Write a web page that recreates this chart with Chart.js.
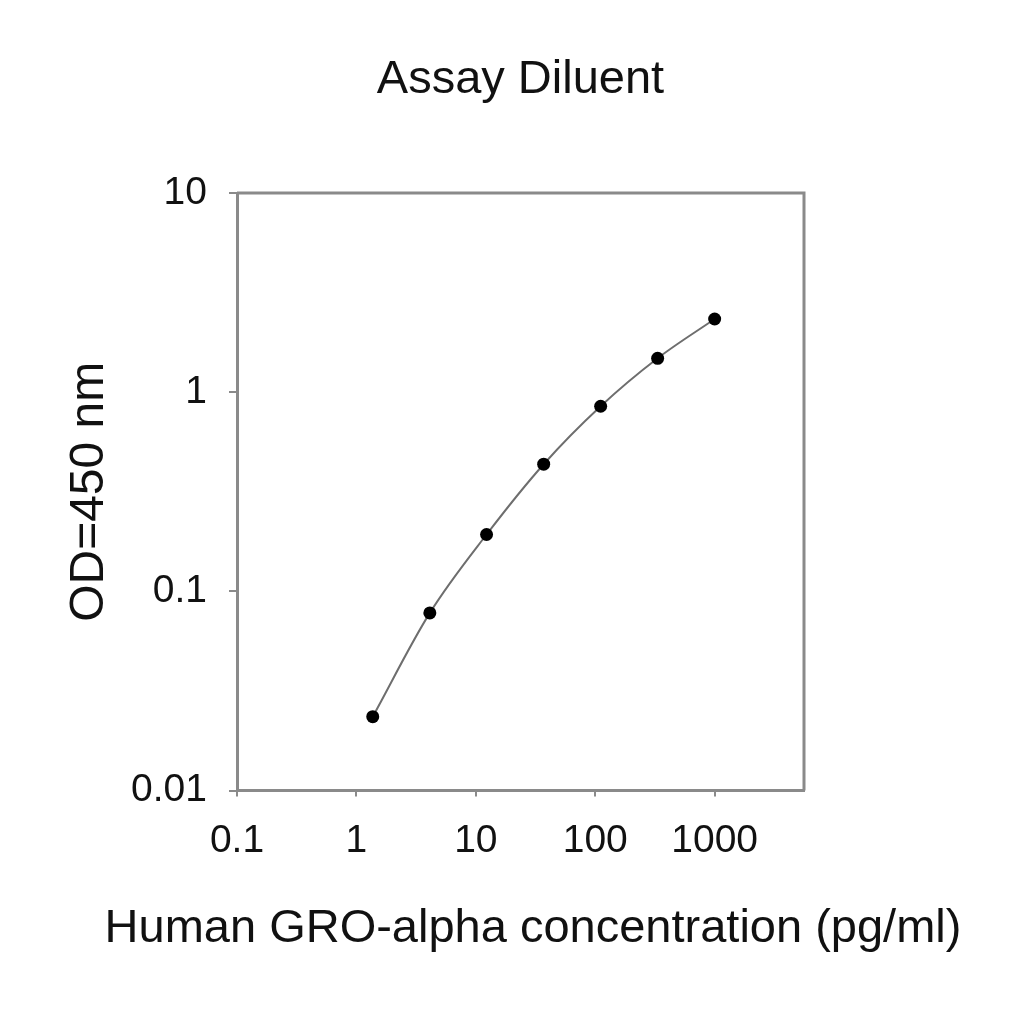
<!DOCTYPE html>
<html>
<head>
<meta charset="utf-8">
<script src="https://cdn.jsdelivr.net/npm/chart.js@4"></script>
<style>
  html, body { margin: 0; padding: 0; background: #fff; }
  #wrap { width: 1024px; height: 1024px; }
</style>
</head>
<body>
<div id="wrap"><canvas id="chart"></canvas></div>
<script>
// GRO-alpha standard curve (pg/ml vs OD 450 nm)
const concentrations = [1.37, 4.12, 12.3, 37, 111, 333, 1000];
const odValues = [0.0235, 0.078, 0.193, 0.435, 0.85, 1.48, 2.33];
const xTicks = [0.1, 1, 10, 100, 1000];
const yTicks = [0.01, 0.1, 1, 10];

const axisGray = '#8a8a8a';
const fontFamily = '"Liberation Sans", Arial, sans-serif';

// top and right edge of the plot box
const frame = {
    id: 'frame',
    afterDraw(chart) {
        const a = chart.chartArea;
        const ctx = chart.ctx;
        ctx.save();
        ctx.strokeStyle = axisGray;
        ctx.lineWidth = 3;
        ctx.beginPath();
        ctx.moveTo(a.left, a.top);
        ctx.lineTo(a.right, a.top);
        ctx.lineTo(a.right, a.bottom);
        ctx.stroke();
        ctx.restore();
    }
};

new Chart(document.getElementById('chart'), {
    type: 'line',
    data: {
        datasets: [{
            data: concentrations.map((c, i) => ({ x: c, y: odValues[i] })),
            borderColor: '#6e6e6e',
            borderWidth: 2,
            cubicInterpolationMode: 'monotone',
            pointRadius: 6.5,
            pointBackgroundColor: '#000',
            pointBorderColor: '#000',
            pointBorderWidth: 0
        }]
    },
    options: {
        responsive: true,
        maintainAspectRatio: false,
        animation: false,
        layout: { padding: { left: 42, right: 0, top: 0, bottom: 0 } },
        plugins: {
            legend: { display: false },
            tooltip: { enabled: false },
            // x axis title, as a bottom subtitle so it can be wider than the plot
            subtitle: {
                display: true,
                position: 'bottom',
                text: 'Human GRO-alpha concentration (pg/ml)',
                color: '#111',
                font: { family: fontFamily, size: 47, weight: 'normal' },
                padding: { top: 0, bottom: 67 }
            }
        },
        scales: {
            x: {
                type: 'logarithmic',
                min: 0.1,
                max: 5600,
                afterBuildTicks: s => { s.ticks = xTicks.map(v => ({ value: v })); },
                afterFit: s => { s.height = 110; },
                ticks: {
                    color: '#111',
                    font: { family: fontFamily, size: 39 },
                    padding: 21,
                    maxRotation: 0,
                    autoSkip: false,
                    callback: v => String(v)
                },
                grid: { drawOnChartArea: false, color: axisGray, lineWidth: 2, tickLength: 6 },
                border: { color: axisGray, width: 3 }
            },
            // empty top axis carrying the chart title, centred over the plot
            xt: {
                type: 'linear',
                position: 'top',
                min: 0,
                max: 1,
                afterFit: s => { s.height = 193; },
                ticks: { display: false },
                grid: { display: false, drawTicks: false },
                border: { display: false },
                title: {
                    display: true,
                    text: 'Assay Diluent',
                    color: '#111',
                    font: { family: fontFamily, size: 47 },
                    padding: { top: 52, bottom: 0 }
                }
            },
            y: {
                type: 'logarithmic',
                min: 0.01,
                max: 10,
                afterBuildTicks: s => { s.ticks = yTicks.map(v => ({ value: v })); },
                afterFit: s => { s.width = 195; },
                ticks: {
                    color: '#111',
                    font: { family: fontFamily, size: 39 },
                    padding: 22,
                    autoSkip: false,
                    callback: v => String(v)
                },
                grid: { drawOnChartArea: false, color: axisGray, lineWidth: 2, tickLength: 8 },
                border: { color: axisGray, width: 3 },
                title: {
                    display: true,
                    text: 'OD=450 nm',
                    color: '#111',
                    font: { family: fontFamily, size: 48 },
                    padding: { top: 19, bottom: 0 }
                }
            },
            // empty right-hand axis, only reserves the space right of the plot
            yr: {
                type: 'linear',
                position: 'right',
                min: 0,
                max: 1,
                afterFit: s => { s.width = 220; },
                ticks: { display: false },
                grid: { display: false, drawTicks: false },
                border: { display: false }
            }
        }
    },
    plugins: [frame]
});
</script>
</body>
</html>
